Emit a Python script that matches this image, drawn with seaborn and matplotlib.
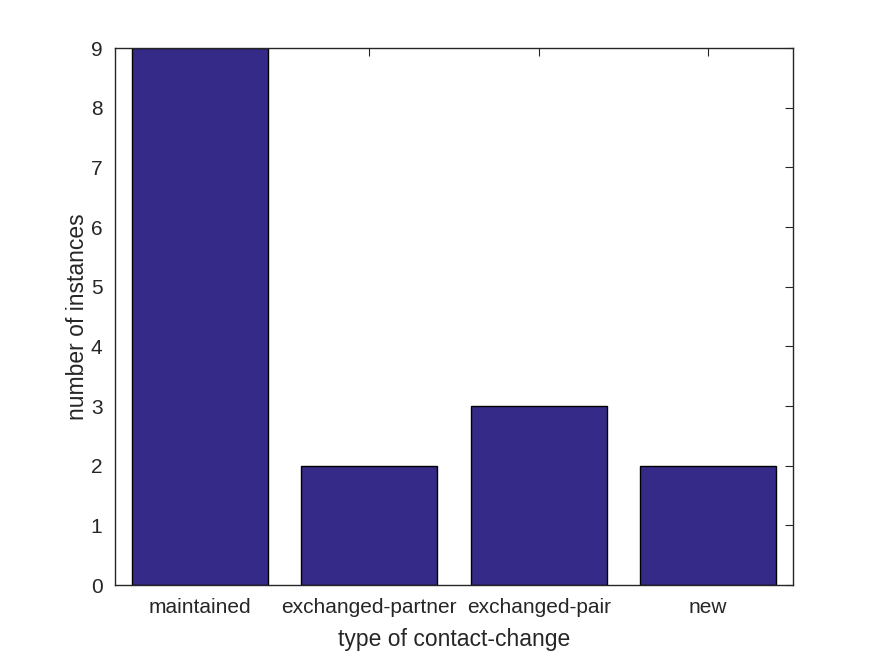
import matplotlib
matplotlib.use("Agg")
import matplotlib.pyplot as plt
import seaborn as sns
import pandas as pd

# Data
categories = ["maintained", "exchanged-partner", "exchanged-pair", "new"]
counts = [9, 2, 3, 2]

df = pd.DataFrame({"type": categories, "count": counts})

sns.set_style("white")
plt.rcParams["font.family"] = ["Liberation Sans", "DejaVu Sans"]

fig = plt.figure(figsize=(8.75, 6.56), dpi=100)
ax = fig.add_axes([0.1314, 0.1082, 0.7749, 0.8186])

sns.barplot(
    data=df, x="type", y="count", ax=ax,
    color="#352A87", saturation=1, width=0.8,
    edgecolor="black", linewidth=1.0,
)

ax.set_xlim(-0.5, 3.5)
ax.set_ylim(0, 9)
ax.set_yticks(range(0, 10))

ax.set_xlabel("type of contact-change", fontsize=16.5, color="#262626", labelpad=8)
ax.set_ylabel("number of instances", fontsize=16.5, color="#262626", labelpad=1)

ax.tick_params(direction="in", length=6, width=0.8, colors="#262626",
               labelsize=15, top=True, right=True)
ax.tick_params(axis="x", pad=9)
ax.tick_params(axis="y", pad=9)
for side in ax.spines.values():
    side.set_visible(True)
    side.set_color("#262626")
    side.set_linewidth(1.0)

fig.savefig("out.png", dpi=100)
